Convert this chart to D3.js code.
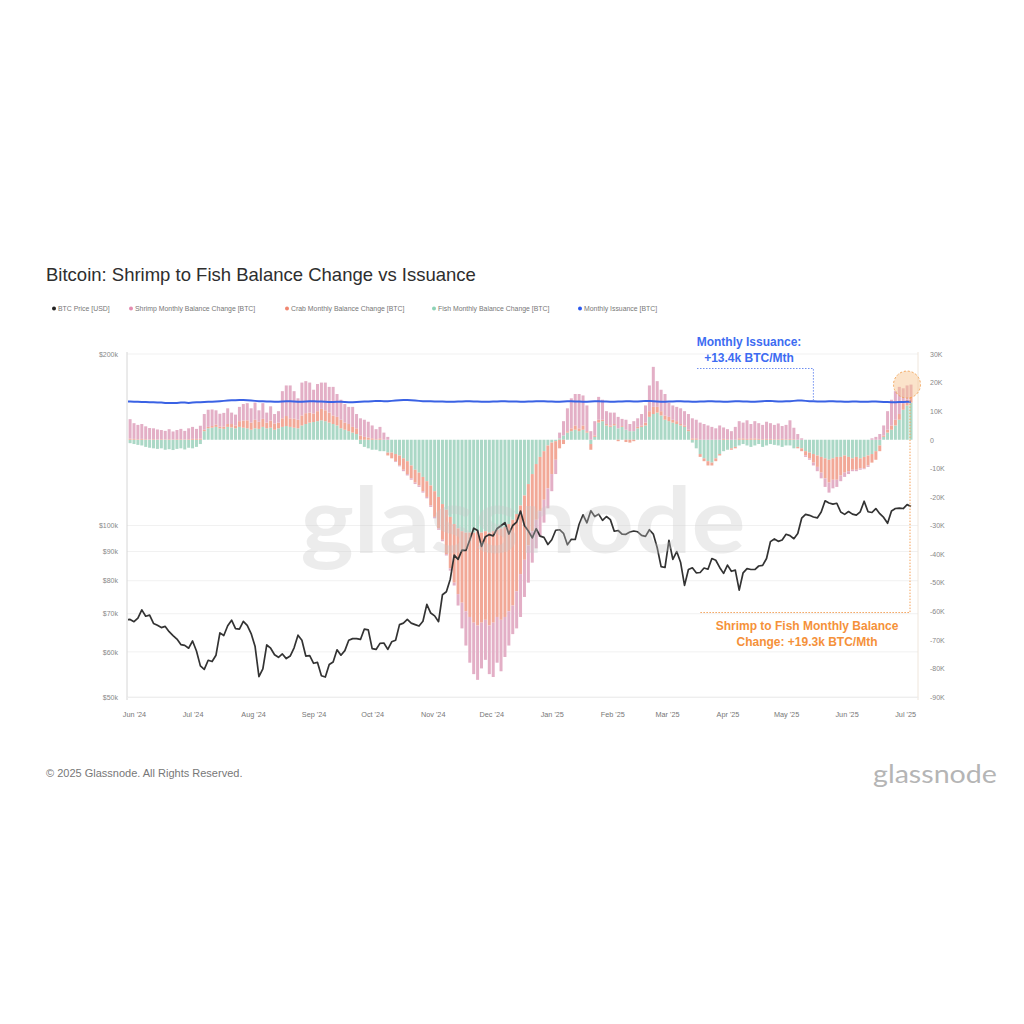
<!DOCTYPE html>
<html><head><meta charset="utf-8">
<script src="https://cdn.jsdelivr.net/npm/d3@7"></script>
<style>body{margin:0;background:#fff;} svg{display:block;font-family:"Liberation Sans",Arial,sans-serif;}</style>
</head><body><svg id="c" width="1024" height="1024"></svg>
<script>
// ---------- DATA (values in thousands) ----------
const startDate = "2024-05-28";   // one sample every 2 days
const stepDays = 2;
const price = [
68.3,68.4,
67.8,68.8,71.1,69.3,69.6,67.3,66.8,66.2,66.5,65.1,64.1,63.2,61.8,61.6,60.9,
62.7,60.2,56.7,55.9,58.0,57.7,59.2,64.8,64.1,66.7,68.2,65.9,65.8,67.9,66.8,64.6,
61.4,54.3,56.0,61.7,60.9,59.3,58.7,59.5,58.4,59.0,61.0,64.2,62.9,59.0,59.1,
57.3,57.5,54.5,54.2,57.0,57.6,60.5,59.2,60.3,62.9,63.3,63.3,63.1,65.8,65.6,
60.8,60.6,62.1,62.2,60.6,62.5,62.9,67.0,67.4,68.4,67.4,67.0,66.6,67.9,72.7,70.2,
69.4,67.8,75.6,76.5,80.5,88.7,87.2,90.5,90.4,94.3,98.9,98.0,91.9,95.6,96.4,
95.9,98.8,99.9,101.2,96.6,100.0,101.4,106.0,100.0,97.8,95.1,98.7,95.8,95.3,92.6,
94.4,98.1,98.3,96.9,92.5,94.6,94.5,100.5,104.4,101.1,106.1,103.7,104.7,102.1,103.7,102.4,
97.7,98.0,96.6,96.5,97.4,97.8,97.5,96.1,95.7,98.3,96.6,91.4,84.7,84.4,
94.2,87.2,90.0,86.1,78.5,83.7,84.3,82.6,82.7,84.2,83.8,87.5,86.9,84.4,82.4,
85.2,83.1,83.5,77.0,82.6,84.0,83.7,83.7,84.9,85.1,87.5,93.7,94.7,93.8,94.3,
96.5,96.0,94.8,96.8,103.0,104.6,104.2,103.5,103.1,105.6,110.5,109.5,109.0,109.4,105.6,104.6,
105.8,104.7,104.3,105.7,110.3,105.7,105.4,107.1,104.9,103.3,100.9,106.0,107.1,107.3,107.1,
108.8,108.0];
const fish = [
-1.0,-1.2,-1.5,-1.8,-2.0,-2.5,-2.8,-3.0,-3.2,-3.0,
-3.5,-3.3,-3.6,-3.2,-3.0,-3.4,-2.8,-3.0,-2.5,-1.5,
3.0,4.0,4.2,4.5,4.0,3.8,4.5,4.3,4.0,4.5,
4.2,4.0,3.5,4.0,3.8,4.5,4.0,4.2,3.5,4.0,
4.5,4.8,4.5,4.2,4.0,5.0,5.5,6.0,6.2,6.5,
6.8,6.5,6.0,5.5,5.0,4.0,3.5,3.0,2.5,2.0,
-1.5,-2.5,-3.0,-3.5,-3.5,-4.0,-4.0,-4.5,-4.5,-5.0,
-5.5,-6.5,-7.5,-9.0,-10.5,-11.5,-13.0,-14.5,-16.0,-18.0,
-20.0,-22.5,-24.5,-27.0,-29.5,-31.0,-32.0,-32.5,-32.5,-32.5,
-32.0,-32.5,-32.0,-32.5,-32.0,-31.5,-31.0,-30.5,-29.5,-28.0,
-26.0,-23.0,-19.5,-15.5,-12.0,-8.5,-6.0,-4.0,-2.0,-1.0,
-0.5,0.5,1.5,2.5,3.0,3.5,3.0,3.5,2.5,-1.5,
1.0,6.0,6.5,5.0,4.5,5.0,4.0,4.5,3.5,3.0,
3.0,4.0,4.5,5.0,8.0,9.0,9.5,8.5,7.0,6.5,
6.0,5.5,5.0,4.5,3.0,-1.0,-3.0,-5.0,-6.5,-7.5,
-8.0,-6.5,-5.0,-4.0,-3.5,-3.0,-2.5,-2.0,-1.5,-2.0,
-2.5,-2.0,-1.5,-2.5,-2.0,-1.5,-1.8,-2.0,-2.5,-2.0,
-2.0,-3.0,-2.5,-3.0,-4.0,-4.5,-5.0,-5.5,-6.0,-6.5,
-7.0,-6.5,-6.0,-6.0,-5.5,-6.0,-6.5,-6.0,-6.5,-6.0,
-5.5,-5.0,-4.0,-2.0,1.0,2.5,3.5,5.0,7.0,10.5,
12.0,13.0];
const crab = [
0.5,0.4,0.3,0.2,0.3,0.2,0.1,0.2,0.1,0.2,
0.1,0.2,0.1,0.2,0.2,0.1,0.2,0.3,0.3,0.4,
0.5,0.5,0.6,0.8,0.6,0.8,1.0,1.2,1.0,2.0,
2.5,2.8,2.5,3.0,2.5,2.8,2.0,2.5,2.2,2.0,
3.0,3.5,3.0,3.2,3.0,3.5,3.8,3.5,3.0,3.5,
4.0,3.8,3.5,3.0,3.0,3.0,2.5,2.5,2.0,2.0,
1.5,1.0,0.8,0.5,0.2,0.5,0.0,-1.0,-2.0,-2.5,
-3.5,-4.0,-4.5,-4.5,-4.5,-4.5,-5.0,-5.5,-7.0,-9.0,
-11.0,-12.5,-15.5,-18.0,-20.5,-23.0,-25.0,-27.5,-29.5,-31.5,
-33.0,-31.5,-31.0,-32.5,-32.0,-30.5,-32.0,-31.5,-30.5,-30.0,
-27.0,-24.0,-22.5,-21.5,-20.0,-19.5,-19.0,-17.0,-15.0,-11.0,
-6.5,-3.0,-1.5,0.5,1.0,1.5,1.0,1.5,0.5,-2.0,
0.5,1.0,0.5,0.5,0.5,0.5,-0.5,0.3,-0.8,-1.0,
-0.5,0.5,0.5,1.0,2.0,2.5,2.0,1.5,1.5,1.5,
1.0,1.0,0.5,0.5,0.5,0.5,0.5,-1.0,-1.0,-1.5,
-1.0,-1.0,-0.5,0.3,0.2,-0.5,-0.5,0.5,0.5,0.3,
0.5,0.5,0.3,0.2,0.3,0.3,0.2,0.2,0.3,0.2,
0.3,0.2,-0.5,-1.0,-1.5,-2.0,-3.0,-4.0,-5.5,-7.0,
-8.0,-7.5,-8.0,-6.5,-6.0,-5.0,-4.0,-4.5,-3.5,-4.0,
-3.5,-3.0,-3.0,-2.0,0.5,1.0,1.5,2.0,2.0,2.0,
2.0,2.0];
const shrimp = [
6.5,6.8,5.5,5.0,5.2,4.5,4.0,3.8,3.5,3.2,
3.0,3.5,2.8,3.2,3.6,3.0,3.8,4.2,3.5,4.5,
5.5,6.0,5.8,5.0,4.5,4.8,5.5,4.0,3.8,5.0,
5.8,6.0,5.0,6.0,4.0,5.5,3.5,5.0,3.3,4.0,
9.5,10.7,11.5,9.6,7.5,11.5,11.2,10.5,8.3,9.5,
9.2,9.7,9.0,10.0,8.0,7.0,6.5,6.0,7.0,5.0,
6.0,6.0,5.5,4.5,3.5,4.0,2.5,1.0,0.0,-0.3,
-0.3,-0.5,-0.5,-0.5,-0.5,-0.5,-0.5,-0.5,-0.5,-0.5,
-0.5,-0.5,-0.5,-0.8,-1.0,-4.0,-9.0,-12.0,-16.0,-18.0,
-19.0,-16.0,-14.0,-17.0,-19.0,-16.0,-18.0,-14.0,-12.0,-10.0,
-13.0,-15.0,-13.0,-13.0,-11.0,-10.0,-9.0,-8.0,-7.0,-6.0,
-5.0,2.0,5.0,8.0,10.5,11.0,12.0,10.5,9.0,3.0,
5.0,8.0,7.0,4.5,4.5,4.0,4.0,2.5,3.5,2.5,
3.5,3.0,4.0,6.0,9.0,14.0,9.0,7.5,7.5,5.0,
5.0,5.0,5.5,5.0,5.5,7.0,6.5,6.0,5.5,5.0,
4.5,4.0,5.0,4.0,3.5,3.0,4.5,6.0,5.5,6.5,
5.0,6.0,5.5,5.0,6.0,5.5,5.0,5.5,4.5,5.0,
6.5,4.0,2.0,0.5,-0.5,-0.5,-1.0,-1.5,-2.0,-3.0,
-3.5,-3.0,-2.5,-2.0,-1.5,-1.0,-0.5,-0.5,-0.5,-0.3,
-0.5,0.5,1.0,2.0,3.5,6.5,9.0,10.0,9.5,5.5,
5.0,4.3];
const issuance = [
13.4,13.4,13.3,13.3,13.2,13.2,13.1,13.1,13.0,13.0,
12.9,12.9,12.9,12.9,13.0,13.0,12.9,13.0,13.1,13.1,
13.2,13.3,13.3,13.4,13.5,13.6,13.7,13.8,13.8,13.9,
13.9,13.8,13.7,13.6,13.5,13.5,13.4,13.4,13.3,13.3,
13.4,13.5,13.5,13.4,13.3,13.3,13.4,13.5,13.5,13.4,
13.4,13.3,13.2,13.2,13.3,13.3,13.2,13.1,13.1,13.2,
13.3,13.4,13.4,13.5,13.6,13.6,13.5,13.5,13.6,13.7,
13.8,13.9,13.9,13.8,13.7,13.6,13.5,13.5,13.5,13.4,
13.4,13.4,13.3,13.3,13.3,13.4,13.4,13.5,13.5,13.4,
13.4,13.3,13.3,13.3,13.4,13.4,13.5,13.5,13.4,13.4,
13.4,13.3,13.3,13.4,13.4,13.5,13.5,13.5,13.4,13.4,
13.3,13.3,13.4,13.5,13.5,13.4,13.4,13.3,13.3,13.4,
13.5,13.5,13.4,13.4,13.3,13.3,13.4,13.4,13.5,13.5,
13.4,13.4,13.5,13.6,13.6,13.5,13.4,13.3,13.3,13.4,
13.4,13.5,13.5,13.4,13.4,13.3,13.3,13.4,13.4,13.5,
13.5,13.4,13.4,13.3,13.3,13.4,13.5,13.5,13.4,13.4,
13.3,13.3,13.4,13.5,13.6,13.6,13.5,13.4,13.4,13.5,
13.5,13.6,13.7,13.7,13.6,13.5,13.5,13.4,13.4,13.4,
13.5,13.5,13.4,13.4,13.3,13.3,13.4,13.4,13.3,13.3,
13.3,13.4,13.4,13.3,13.2,13.2,13.1,13.1,13.2,13.2,
13.3,13.3];
const priceTicks = [50,60,70,80,90,100,200];
const balanceTicks = [30,20,10,0,-10,-20,-30,-40,-50,-60,-70,-80,-90];
const monthTicks = ["2024-06-01","2024-07-01","2024-08-01","2024-09-01","2024-10-01","2024-11-01","2024-12-01",
  "2025-01-01","2025-02-01","2025-03-01","2025-04-01","2025-05-01","2025-06-01","2025-07-01"];
const seriesKeys = ["fish","crab","shrimp"];
const legendLabels = ["BTC Price [USD]","Shrimp Monthly Balance Change [BTC]","Crab Monthly Balance Change [BTC]","Fish Monthly Balance Change [BTC]","Monthly Issuance [BTC]"];
const issuanceNote = ["Monthly Issuance:","+13.4k BTC/Mth"];
const balanceNote = ["Shrimp to Fish Monthly Balance","Change: +19.3k BTC/Mth"];

// ---------- STYLE ----------
const colors = {fish:"#abd8c6", crab:"#f2a897", shrimp:"#e3afc6"};
const legendColors = ["#222","#e48cb0","#f08670","#8dd2b6","#2a58ee"];
const L=127,R=918,T=352,B=697;

const svg = d3.select("#c");
const parse = d3.utcParse("%Y-%m-%d");
const t0 = parse(startDate);
const dates = price.map((_,i)=>d3.utcDay.offset(t0, i*stepDays));

const x = d3.scaleUtc().domain([new Date(Date.UTC(2024,4,28,10)), new Date(Date.UTC(2025,6,7,14))]).range([L,R]);
const yR = d3.scaleLinear().domain([-90,30]).range([697,354]);
const yL = d3.scaleLog().domain([50,200]).range([697,354]);

// title
svg.append("text").attr("x",46).attr("y",281).attr("font-size",18.5).attr("fill","#2e2e2e")
  .text("Bitcoin: Shrimp to Fish Balance Change vs Issuance");

// legend
const lx = [54,131,287,434,580];
legendLabels.forEach((t,i)=>{
  svg.append("circle").attr("cx",lx[i]).attr("cy",308.5).attr("r",2).attr("fill",legendColors[i]);
  svg.append("text").attr("x",lx[i]+4).attr("y",311).attr("font-size",6.9).attr("fill","#777").text(t);
});

// gridlines
svg.append("g").selectAll("line").data(priceTicks).join("line")
  .attr("x1",L).attr("x2",R).attr("y1",d=>yL(d)).attr("y2",d=>yL(d))
  .attr("stroke","#f1f1f1").attr("stroke-width",1);

svg.append("clipPath").attr("id","plot").append("rect")
  .attr("x",L+1).attr("y",T).attr("width",R-L-1).attr("height",B-T);
const plot = svg.append("g").attr("clip-path","url(#plot)");

// stacked bars
const rows = dates.map((d,i)=>({date:d, fish:fish[i], crab:crab[i], shrimp:shrimp[i]}));
const stacked = d3.stack().keys(seriesKeys).offset(d3.stackOffsetDiverging)(rows);
const bw = 3.0;
stacked.forEach(layer=>{
  plot.append("g").attr("fill",colors[layer.key]).selectAll("rect").data(layer).join("rect")
    .attr("x",d=>x(d.data.date)-bw/2)
    .attr("width",bw)
    .attr("y",d=>yR(Math.max(d[0],d[1])))
    .attr("height",d=>Math.abs(yR(d[0])-yR(d[1])));
});

// watermark
svg.append("text").attr("x",523).attr("y",553).attr("text-anchor","middle")
  .attr("font-family","Lato, 'Open Sans', sans-serif").attr("font-weight",700)
  .attr("font-size",92).attr("fill","#c8c8c8").attr("opacity",0.33)
  .attr("textLength",445).attr("lengthAdjust","spacingAndGlyphs").text("glassnode");

// issuance line
plot.append("path").datum(issuance).attr("fill","none").attr("stroke","#3a62e4").attr("stroke-width",2)
  .attr("d",d3.line().x((d,i)=>x(dates[i])).y(d=>yR(d)));

// price line
plot.append("path").datum(price).attr("fill","none").attr("stroke","#333").attr("stroke-width",1.7)
  .attr("stroke-linejoin","round")
  .attr("d",d3.line().x((d,i)=>x(dates[i])).y(d=>yL(d)));

// axes
const axL = svg.append("g").attr("transform",`translate(${L},0)`)
  .call(d3.axisLeft(yL).tickValues(priceTicks).tickSize(0).tickPadding(9).tickFormat(d=>"$"+d+"k"));
axL.select(".domain").attr("stroke","#d6d6d6").attr("d",`M0,${T}V${B+3}`);
axL.selectAll("text").attr("font-size",7).attr("fill","#888").attr("font-family","'Liberation Sans',Arial,sans-serif");

const axR = svg.append("g").attr("transform",`translate(${R},0)`)
  .call(d3.axisRight(yR).tickValues(balanceTicks).tickSize(0).tickPadding(12).tickFormat(d=>d===0?"0":d+"K"));
axR.select(".domain").attr("stroke","#efe6dc").attr("d",`M0,${T}V${B+3}`);
axR.selectAll("text").attr("font-size",7).attr("fill","#888").attr("font-family","'Liberation Sans',Arial,sans-serif");

const axB = svg.append("g").attr("transform",`translate(0,${B})`)
  .call(d3.axisBottom(x).tickValues(monthTicks.map(parse)).tickSize(0).tickPadding(15).tickFormat(d3.utcFormat("%b '%y")));
axB.select(".domain").attr("stroke","#eeeeee");
axB.selectAll("text").attr("font-size",7.3).attr("fill","#777").attr("font-family","'Liberation Sans',Arial,sans-serif");

// issuance annotation
const iIdx = 176;
const ax = x(dates[iIdx]);
svg.append("path").attr("d",`M697,368.5H${ax}V${yR(issuance[iIdx])}`).attr("fill","none")
  .attr("stroke","#6f8ff0").attr("stroke-width",1).attr("stroke-dasharray","1.5,1.5");
issuanceNote.forEach((t,k)=>{
  svg.append("text").attr("x",749).attr("y",346+k*15.5).attr("text-anchor","middle")
    .attr("font-size",12).attr("font-weight",700).attr("fill","#3d6cf2").text(t);
});

// balance annotation
const last = dates.length-1;
const lastTotal = fish[last]+crab[last]+shrimp[last];
const cx = x(dates[last]) - 4, cy = yR(lastTotal);
svg.append("circle").attr("cx",cx).attr("cy",cy).attr("r",13.5)
  .attr("fill","#f7c08a").attr("fill-opacity",0.45).attr("stroke","#f2a55a").attr("stroke-width",1)
  .attr("stroke-dasharray","2,2");
svg.append("path").attr("d",`M${cx+3},${cy+13}V612.5H700`).attr("fill","none")
  .attr("stroke","#f4a25a").attr("stroke-width",1).attr("stroke-dasharray","1.5,1.5");
balanceNote.forEach((t,k)=>{
  svg.append("text").attr("x",807).attr("y",630+k*16).attr("text-anchor","middle")
    .attr("font-size",12).attr("font-weight",700).attr("fill","#f5913a").text(t);
});

// footer
svg.append("text").attr("x",46).attr("y",777).attr("font-size",11).attr("fill","#777")
  .text("© 2025 Glassnode. All Rights Reserved.");
svg.append("text").attr("x",873).attr("y",783).attr("font-size",25)
  .attr("font-family","Lato, 'Open Sans', sans-serif").attr("fill","#b5b5b5")
  .attr("textLength",124).attr("lengthAdjust","spacingAndGlyphs").text("glassnode");
</script></body></html>
